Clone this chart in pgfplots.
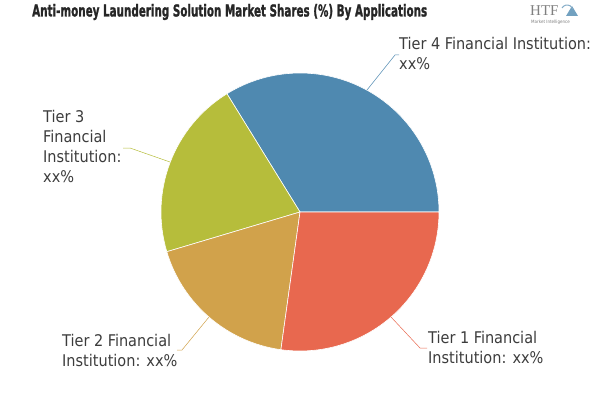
\documentclass[border=0pt]{standalone}
\usepackage{pgfplots}
\pgfplotsset{compat=1.18}
\usepackage{fontspec}
\setmainfont{DejaVu Sans Condensed}
\newfontfamily\titlefont{DejaVu Sans Condensed}[BoldFeatures={FakeBold=1.6}]
\newfontfamily\logofont{Liberation Serif}
\definecolor{tierfour}{RGB}{79,137,176}
\definecolor{tierone}{RGB}{232,104,79}
\definecolor{tiertwo}{RGB}{209,162,75}
\definecolor{tierthree}{RGB}{182,189,59}
\definecolor{labelgray}{RGB}{60,60,60}

% slice{start angle}{end angle}{colour}, centre (300,188), radius 139
\newcommand\slice[3]{%
  \fill[#3, draw=white, line width=0.6pt] (axis cs:300,188) -- ++(#1:139pt)
    arc[start angle=#1, end angle=#2, radius=139pt] -- cycle;}

\begin{document}
\begin{tikzpicture}
\begin{axis}[
    x=1pt, y=1pt,
    xmin=0, xmax=600, ymin=0, ymax=400,
    hide axis, clip=false,
]
\path (axis cs:0,0) rectangle (axis cs:600,400);
% shares: 33.8, 20.8, 18.2, 27.2 (%)
\slice{0}{121.7}{tierfour}
\slice{121.7}{196.6}{tierthree}
\slice{196.6}{262.1}{tiertwo}
\slice{262.1}{360}{tierone}

% leader lines
\draw[tierfour, line width=0.5pt] (axis cs:367,310) -- (axis cs:395,345) -- (axis cs:399,345);
\draw[tierthree, line width=0.5pt] (axis cs:170,238) -- (axis cs:130,252) -- (axis cs:123,252);
\draw[tiertwo, line width=0.5pt] (axis cs:209,83) -- (axis cs:182,50) -- (axis cs:177,50);
\draw[tierone, line width=0.5pt] (axis cs:391,83) -- (axis cs:420,52) -- (axis cs:427,52);

% labels
\begin{scope}[every node/.style={inner sep=0pt, align=left, anchor=west, text=labelgray,
    font=\fontsize{16.1}{20}\selectfont}]
\node at (axis cs:399,347) {Tier 4 Financial Institution:\\xx\%};
\node at (axis cs:43,253.5) {Tier 3\\Financial\\Institution:\\xx\%};
\node at (axis cs:62,50) {Tier 2 Financial\\Institution: xx\%};
\node at (axis cs:428,52.5) {Tier 1 Financial\\Institution: xx\%};
\end{scope}

% title
\node[anchor=west, inner sep=0pt, text=black!85] at (axis cs:32,388)
  {\resizebox{395pt}{12.5pt}{\titlefont\bfseries Anti-money Laundering Solution Market Shares (\%) By Applications}};

% logo
\node[anchor=west, inner sep=0pt, text=gray] at (axis cs:530,389) {\logofont\fontsize{15}{15}\selectfont HTF};
\fill[tierfour!80] (axis cs:566,384) -- (axis cs:578,384) -- (axis cs:572,394) -- cycle;
\draw[tierfour!70, line width=1pt] (axis cs:562,392) arc[start angle=150, end angle=20, radius=6pt];
\node[anchor=west, inner sep=0pt, text=gray] at (axis cs:531,378) {\fontsize{4.5}{5}\selectfont Market Intelligence};
\end{axis}
\end{tikzpicture}
\end{document}
